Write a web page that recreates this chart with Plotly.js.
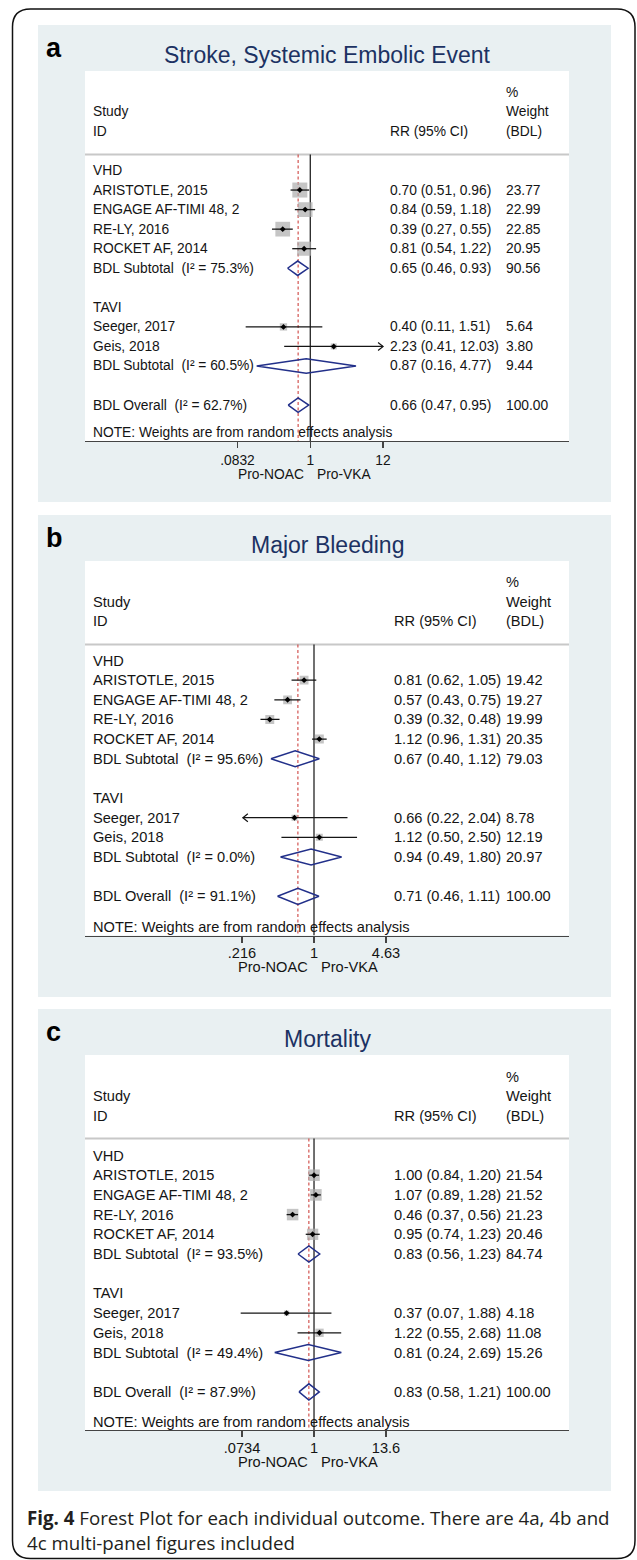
<!DOCTYPE html>
<html>
<head>
<meta charset="utf-8">
<script src="https://cdn.plot.ly/plotly-3.0.1.min.js"></script>
<style>
  html, body { margin: 0; padding: 0; background: #ffffff; }
  #chart { width: 637px; height: 1560px; }
</style>
</head>
<body>
<div id="chart"></div>
<script>
// ================= DATA =================
const groupNames = ['VHD', 'TAVI'];
const studiesVHD = ['ARISTOTLE, 2015', 'ENGAGE AF-TIMI 48, 2', 'RE-LY, 2016', 'ROCKET AF, 2014'];
const studiesTAVI = ['Seeger, 2017', 'Geis, 2018'];
const panelLetters = ['a', 'b', 'c'];
const panelTitles = ['Stroke, Systemic Embolic Event', 'Major Bleeding', 'Mortality'];

// Panel a: Stroke, Systemic Embolic Event
const rrA  = [0.70, 0.84, 0.39, 0.81, 0.40, 2.23];
const loA  = [0.51, 0.59, 0.27, 0.54, 0.11, 0.41];
const hiA  = [0.96, 1.18, 0.55, 1.22, 1.51, 12.03];
const wA   = [23.77, 22.99, 22.85, 20.95, 5.64, 3.80];
const arrowA = ['', '', '', '', '', 'right'];
const subRrA = [0.65, 0.87];
const subLoA = [0.46, 0.16];
const subHiA = [0.93, 4.77];
const subWA  = [90.56, 9.44];
const subI2A = [75.3, 60.5];
const allA   = [0.66, 0.47, 0.95];
const allWA  = 100.00;
const allI2A = 62.7;
const tickValsA = [0.0832, 1, 12];
const tickTextA = ['.0832', '1', '12'];

// Panel b: Major Bleeding
const rrB  = [0.81, 0.57, 0.39, 1.12, 0.66, 1.12];
const loB  = [0.62, 0.43, 0.32, 0.96, 0.22, 0.50];
const hiB  = [1.05, 0.75, 0.48, 1.31, 2.04, 2.50];
const wB   = [19.42, 19.27, 19.99, 20.35, 8.78, 12.19];
const arrowB = ['', '', '', '', 'left', ''];
const subRrB = [0.67, 0.94];
const subLoB = [0.40, 0.49];
const subHiB = [1.12, 1.80];
const subWB  = [79.03, 20.97];
const subI2B = [95.6, 0.0];
const allB   = [0.71, 0.46, 1.11];
const allWB  = 100.00;
const allI2B = 91.1;
const tickValsB = [0.216, 1, 4.63];
const tickTextB = ['.216', '1', '4.63'];

// Panel c: Mortality
const rrC  = [1.00, 1.07, 0.46, 0.95, 0.37, 1.22];
const loC  = [0.84, 0.89, 0.37, 0.74, 0.07, 0.55];
const hiC  = [1.20, 1.28, 0.56, 1.23, 1.88, 2.68];
const wC   = [21.54, 21.52, 21.23, 20.46, 4.18, 11.08];
const arrowC = ['', '', '', '', '', ''];
const subRrC = [0.83, 0.81];
const subLoC = [0.56, 0.24];
const subHiC = [1.23, 2.69];
const subWC  = [84.74, 15.26];
const subI2C = [93.5, 49.4];
const allC   = [0.83, 0.58, 1.21];
const allWC  = 100.00;
const allI2C = 87.9;
const tickValsC = [0.0734, 1, 13.6];
const tickTextC = ['.0734', '1', '13.6'];

const noteText = 'NOTE: Weights are from random effects analysis';
const leftLabel = 'Pro-NOAC';
const rightLabel = 'Pro-VKA';
const captionBold = 'Fig. 4';
const captionLine1 = ' Forest Plot for each individual outcome. There are 4a, 4b and';
const captionLine2 = '4c multi-panel figures included';

// ================= LAYOUT / STYLE =================
const W = 637, H = 1560;
const PX = x => x / W;
const PY = y => 1 - y / H;
const FONT = '"Liberation Sans", Arial, Helvetica, sans-serif';
const TXT = '#141414';
const PANEL_BG = '#e9f0f2';
const TITLE_COLOR = '#1c3263';
const DIAMOND_COLOR = '#22308a';
const RED = '#c9302c';
const BOX_GRAY = '#adadad';
const WX0 = 85, WX1 = 569, LABX = 92, WTX = 505;
const WTOP = 46, SEP = 129.5;

const PANELS = [
  { top: 25,   bottom: 502,  row0: 145.5, step: 19.55, axis: 416,   fs: 13.8, ciX: 389, gx0: 237.5, gx1: 383, box: 3.08, dh: 0.37 },
  { top: 515,  bottom: 997,  row0: 145.5, step: 19.65, axis: 420.5, fs: 14.6, ciX: 393, gx0: 242,   gx1: 386, box: 2.0,  dh: 0.41 },
  { top: 1009, bottom: 1491, row0: 146.5, step: 19.7,  axis: 421,   fs: 14.6, ciX: 393, gx0: 242,   gx1: 386, box: 2.5,  dh: 0.41 }
];

const datasets = [
  { rr: rrA, lo: loA, hi: hiA, w: wA, arrow: arrowA, subRr: subRrA, subLo: subLoA, subHi: subHiA, subW: subWA, subI2: subI2A, all: allA, allW: allWA, allI2: allI2A, tv: tickValsA, tt: tickTextA },
  { rr: rrB, lo: loB, hi: hiB, w: wB, arrow: arrowB, subRr: subRrB, subLo: subLoB, subHi: subHiB, subW: subWB, subI2: subI2B, all: allB, allW: allWB, allI2: allI2B, tv: tickValsB, tt: tickTextB },
  { rr: rrC, lo: loC, hi: hiC, w: wC, arrow: arrowC, subRr: subRrC, subLo: subLoC, subHi: subHiC, subW: subWC, subI2: subI2C, all: allC, allW: allWC, allI2: allI2C, tv: tickValsC, tt: tickTextC }
];

const traces = [];
const annotations = [];
const shapes = [];
const layout = {
  width: W, height: H,
  margin: { l: 0, r: 0, t: 0, b: 0, pad: 0 },
  paper_bgcolor: '#ffffff',
  plot_bgcolor: 'rgba(0,0,0,0)',
  showlegend: false,
  hovermode: false
};

// outer rounded border
(function () {
  const l = 12.5, t = 9, r = 635, b = 1558.5, rad = 18;
  const p = (x, y) => PX(x) + ',' + PY(y);
  const path = 'M' + p(l + rad, t) + ' L' + p(r - rad, t) + ' Q' + p(r, t) + ' ' + p(r, t + rad) +
    ' L' + p(r, b - rad) + ' Q' + p(r, b) + ' ' + p(r - rad, b) +
    ' L' + p(l + rad, b) + ' Q' + p(l, b) + ' ' + p(l, b - rad) +
    ' L' + p(l, t + rad) + ' Q' + p(l, t) + ' ' + p(l + rad, t) + ' Z';
  shapes.push({ type: 'path', xref: 'paper', yref: 'paper', path: path, line: { color: '#111', width: 1.5 }, layer: 'above' });
})();

PANELS.forEach((cfg, k) => {
  const d = datasets[k];
  const sfx = k === 0 ? '' : String(k + 1);
  const xref = 'x' + sfx, yref = 'y' + sfx;
  const T = cfg.top;
  const rowOf = off => (off - cfg.row0) / cfg.step;
  const rTop = rowOf(WTOP);
  const rBot = rowOf(cfg.axis);
  const rSep = rowOf(SEP);

  // backgrounds
  shapes.push({ type: 'rect', xref: 'paper', yref: 'paper', x0: PX(38), x1: PX(611), y0: PY(cfg.bottom), y1: PY(T),
    fillcolor: PANEL_BG, line: { width: 0 }, layer: 'below' });
  shapes.push({ type: 'rect', xref: 'paper', yref: 'paper', x0: PX(WX0), x1: PX(WX1), y0: PY(T + cfg.axis), y1: PY(T + WTOP),
    fillcolor: '#ffffff', line: { width: 0 }, layer: 'below' });
  shapes.push({ type: 'line', xref: 'paper', yref: yref, x0: PX(WX0), x1: PX(WX1), y0: rSep, y1: rSep,
    line: { color: '#c8c8c8', width: 2 }, layer: 'below' });

  // axes
  const n = d.tv.length;
  const lmin = Math.log10(d.tv[0]), lmax = Math.log10(d.tv[n - 1]);
  const ppd = (cfg.gx1 - cfg.gx0) / (lmax - lmin);
  layout['xaxis' + sfx] = {
    type: 'log', domain: [PX(WX0), PX(WX1)],
    range: [lmin - (cfg.gx0 - WX0) / ppd, lmax + (WX1 - cfg.gx1) / ppd],
    anchor: yref, showgrid: false, zeroline: false,
    showline: true, linecolor: '#444', linewidth: 1.4,
    ticks: 'outside', ticklen: 6, tickwidth: 1.2, tickcolor: '#444',
    tickmode: 'array', tickvals: d.tv, ticktext: d.tt,
    tickfont: { family: FONT, size: cfg.fs, color: TXT },
    ticklabelstandoff: (k === 0 ? 0 : -2), fixedrange: true
  };
  layout['yaxis' + sfx] = {
    domain: [PY(T + cfg.axis), PY(T + WTOP)], range: [rBot, rTop], anchor: xref,
    visible: false, showgrid: false, zeroline: false, fixedrange: true
  };

  // rows
  const rows = [];
  let r = 0, si = 0;
  [studiesVHD, studiesTAVI].forEach((names, g) => {
    rows.push({ r: r++, label: groupNames[g] });
    names.forEach(nm => {
      rows.push({ r: r++, label: nm, kind: 'study', rr: d.rr[si], lo: d.lo[si], hi: d.hi[si], w: d.w[si], arrow: d.arrow[si] });
      si++;
    });
    rows.push({ r: r++, label: 'BDL Subtotal\u00a0\u00a0(I\u00b2 = ' + d.subI2[g].toFixed(1) + '%)', kind: 'pool',
      rr: d.subRr[g], lo: d.subLo[g], hi: d.subHi[g], w: d.subW[g] });
    r++;
  });
  rows.push({ r: r++, label: 'BDL Overall\u00a0\u00a0(I\u00b2 = ' + d.allI2.toFixed(1) + '%)', kind: 'pool',
    rr: d.all[0], lo: d.all[1], hi: d.all[2], w: d.allW });

  const base = { type: 'scatter', xaxis: xref, yaxis: yref, hoverinfo: 'skip', showlegend: false };

  // reference lines
  traces.push(Object.assign({}, base, { mode: 'lines', x: [1, 1], y: [rSep, rBot], line: { color: '#111', width: 1.2 } }));
  traces.push(Object.assign({}, base, { mode: 'lines', x: [d.all[0], d.all[0]], y: [rSep, rBot], line: { color: RED, width: 1, dash: '3px,2.5px' } }));

  const studies = rows.filter(o => o.kind === 'study');
  const pools = rows.filter(o => o.kind === 'pool');

  // weight boxes
  traces.push(Object.assign({}, base, { mode: 'markers', x: studies.map(s => s.rr), y: studies.map(s => s.r),
    marker: { symbol: 'square', size: studies.map(s => cfg.box * Math.sqrt(s.w)), color: BOX_GRAY, line: { width: 0 } } }));

  // CI lines
  const cx = [], cy = [];
  studies.forEach(s => { cx.push(s.lo, s.hi, null); cy.push(s.r, s.r, null); });
  traces.push(Object.assign({}, base, { mode: 'lines', x: cx, y: cy, line: { color: '#151515', width: 1.3 } }));

  // arrowheads for truncated CIs
  const pxPerLn = ppd / Math.LN10;
  const al = 5 / pxPerLn, ah = 4 / cfg.step;
  const hx = [], hy = [];
  studies.forEach(s => {
    if (s.arrow === 'right') { const b = s.hi * Math.exp(-al); hx.push(b, s.hi, b, null); hy.push(s.r - ah, s.r, s.r + ah, null); }
    if (s.arrow === 'left')  { const b = s.lo * Math.exp(al);  hx.push(b, s.lo, b, null); hy.push(s.r - ah, s.r, s.r + ah, null); }
  });
  if (hx.length) traces.push(Object.assign({}, base, { mode: 'lines', x: hx, y: hy, line: { color: '#151515', width: 1.2 } }));

  // point estimates
  traces.push(Object.assign({}, base, { mode: 'markers', x: studies.map(s => s.rr), y: studies.map(s => s.r),
    marker: { symbol: 'diamond', size: 4.5, color: '#000' } }));

  // pooled diamonds
  const dx = [], dy = [];
  pools.forEach(p => {
    dx.push(p.lo, p.rr, p.hi, p.rr, p.lo, null);
    dy.push(p.r, p.r - cfg.dh, p.r, p.r + cfg.dh, p.r, null);
  });
  traces.push(Object.assign({}, base, { mode: 'lines', x: dx, y: dy, line: { color: DIAMOND_COLOR, width: 1.5 } }));

  // texts
  const font = { family: FONT, size: cfg.fs, color: TXT };
  const ann = (x, y, text, extra) => annotations.push(Object.assign({
    xref: 'paper', yref: yref, x: PX(x), y: y, text: text, showarrow: false,
    xanchor: 'left', yanchor: 'middle', align: 'left', font: font, borderpad: 0
  }, extra || {}));

  ann(WTX, -4, '%');
  ann(LABX, -3, 'Study');
  ann(WTX, -3, 'Weight');
  ann(LABX, -2, 'ID');
  ann(cfg.ciX, -2, 'RR (95% CI)');
  ann(WTX, -2, '(BDL)');

  rows.forEach(o => {
    ann(LABX, o.r, o.label);
    if (o.kind) {
      ann(cfg.ciX, o.r, o.rr.toFixed(2) + ' (' + o.lo.toFixed(2) + ', ' + o.hi.toFixed(2) + ')');
      ann(WTX, o.r, o.w.toFixed(2));
    }
  });
  ann(LABX, rowOf(cfg.axis - 8.5), noteText);

  // favours labels around RR = 1 (annotation x on a log axis is given as log10)
  const proY = PY(T + cfg.axis + (k === 0 ? 33 : 31.5));
  annotations.push({ xref: xref, yref: 'paper', x: Math.log10(1), y: proY, text: leftLabel, showarrow: false,
    xanchor: 'right', yanchor: 'middle', xshift: -5, font: font, borderpad: 0 });
  annotations.push({ xref: xref, yref: 'paper', x: Math.log10(1), y: proY, text: rightLabel, showarrow: false,
    xanchor: 'left', yanchor: 'middle', xshift: 6, font: font, borderpad: 0 });

  // title & panel letter
  annotations.push({ xref: 'paper', yref: 'paper', x: PX(327), y: PY(T + 30), text: panelTitles[k], showarrow: false,
    xanchor: 'center', yanchor: 'middle', font: { family: FONT, size: 23, color: TITLE_COLOR }, borderpad: 0 });
  annotations.push({ xref: 'paper', yref: 'paper', x: PX(45), y: PY(T + 23), text: '<b>' + panelLetters[k] + '</b>', showarrow: false,
    xanchor: 'left', yanchor: 'middle', font: { family: FONT, size: 27, color: '#000' }, borderpad: 0 });
});

// caption
const capFont = { family: '"Open Sans", "Noto Sans", sans-serif', size: 18.7, color: '#231f20' };
annotations.push({ xref: 'paper', yref: 'paper', x: PX(26), y: PY(1517), xanchor: 'left', yanchor: 'middle',
  text: '<b>' + captionBold + '</b>' + captionLine1, showarrow: false, font: capFont, borderpad: 0 });
annotations.push({ xref: 'paper', yref: 'paper', x: PX(26), y: PY(1542), xanchor: 'left', yanchor: 'middle',
  text: captionLine2, showarrow: false, font: capFont, borderpad: 0 });

layout.shapes = shapes;
layout.annotations = annotations;

Plotly.newPlot('chart', traces, layout, { staticPlot: true, displayModeBar: false });
</script>
</body>
</html>
